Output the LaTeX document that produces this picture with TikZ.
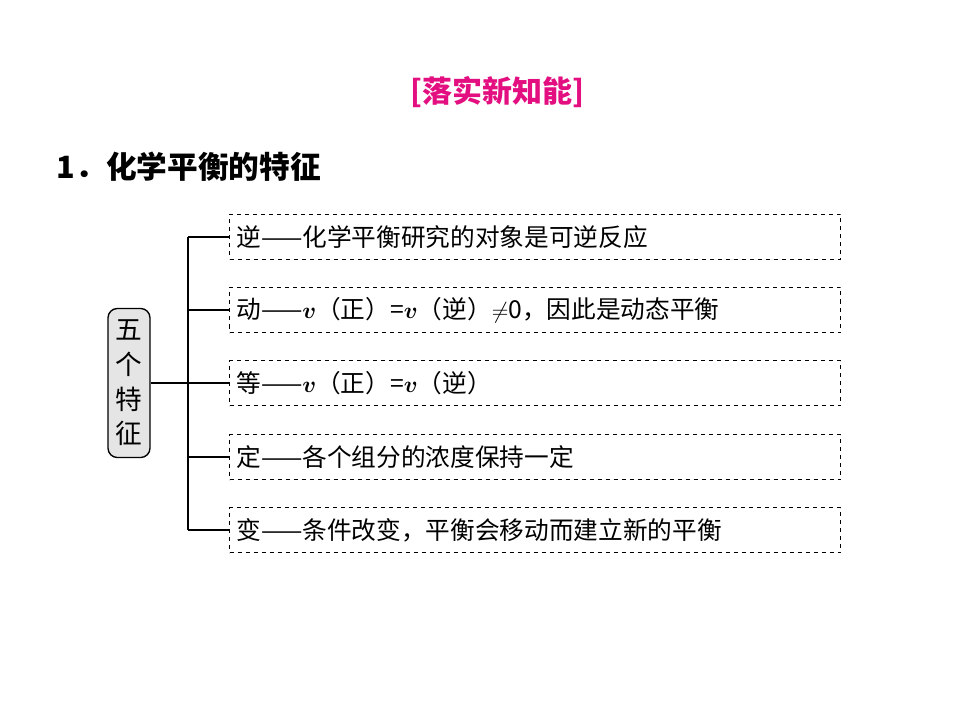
\documentclass[tikz,border=0pt]{standalone}
\usepackage{amsmath}
\usepackage{amssymb}
\usepackage{bm}
\usepackage{fontspec}
\setmainfont{Liberation Serif}
\newfontfamily\cjk{Noto Sans CJK SC}
\begin{document}
\begin{tikzpicture}[x=0.75pt,y=-0.75pt,
  rowbox/.style={draw,dashed,line width=1pt,minimum width=611*0.75pt,minimum height=45*0.75pt,anchor=west,inner xsep=5pt,text width=611*0.75pt-10pt,align=left,font=\cjk\fontsize{18.5}{20}\selectfont},
  ln/.style={line width=1.1pt}]
\useasboundingbox (0,0) rectangle (960,720);
\node[text=magenta!80!purple,font=\cjk\bfseries\fontsize{22.5}{24}\selectfont] (t) at (497,92) {[落实新知能]};
\node[anchor=west,font=\cjk\bfseries\fontsize{23}{25}\selectfont] (h) at (52,167) {1．化学平衡的特征};
\node[draw,line width=1pt,rounded corners=7pt,fill=gray!20,minimum width=42*0.75pt,minimum height=149*0.75pt,align=center,font=\cjk\fontsize{20}{26}\selectfont,inner sep=1pt] (L) at (129,383) {五\\个\\特\\征};
\node[rowbox] (r1) at (229,237) {逆——化学平衡研究的对象是可逆反应};
\node[rowbox] (r2) at (229,310) {动——$\bm{v}$（正）=$\bm{v}$（逆）$\neq$0，因此是动态平衡};
\node[rowbox] (r3) at (229,383) {等——$\bm{v}$（正）=$\bm{v}$（逆）};
\node[rowbox] (r4) at (229,457) {定——各个组分的浓度保持一定};
\node[rowbox] (r5) at (229,530) {变——条件改变，平衡会移动而建立新的平衡};
\coordinate (ta) at (188,237);
\coordinate (tb) at (188,530);
\draw[ln] (ta) -- (tb);
\draw[ln] (L.east) -- (r3.west);
\foreach \r in {r1,r2,r4,r5} \draw[ln] (ta |- \r.west) -- (\r.west);
\end{tikzpicture}
\end{document}
